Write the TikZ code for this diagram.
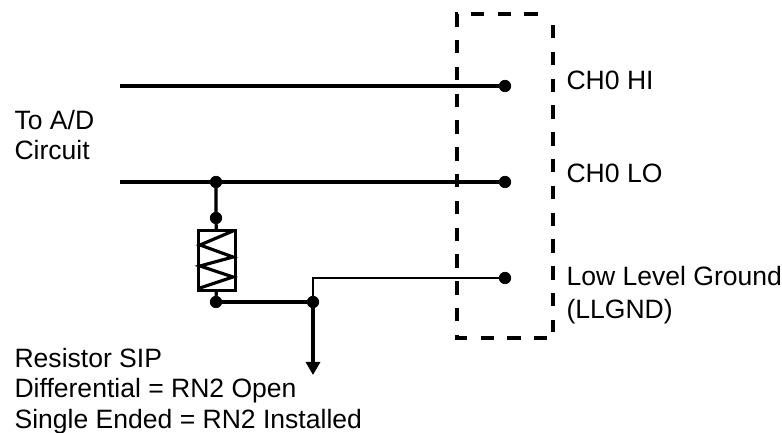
\documentclass[tikz,border=0pt]{standalone}
\usepackage{fontspec}
\setmainfont{Liberation Sans}
\usetikzlibrary{arrows.meta}

\begin{document}
\begin{tikzpicture}[line width = 0.9pt,
                        dot/.style = {circle, draw, fill = black, inner sep = 0pt, line width = 0.2pt, minimum size = 0.115cm},
                        thin wire/.style = {line width = 0.7pt},
                        box edge/.style = {line width = 1.2pt, dash pattern = on 0.135cm off 0.133cm},
                        resistor/.style = {draw, inner sep = 0pt, line width = 0.8pt, minimum width = 0.37cm, minimum height = 0.6cm},
                        label/.style = {anchor = west, inner sep = 0pt, font = \fontsize{7.55}{8.6}\selectfont, align = left}]
      \useasboundingbox (0, 0) rectangle (7.82, 4.33);
      % wires coming from the A/D circuit
      \coordinate (hi) at (1.2, 3.47);
      \coordinate (lo) at (1.2, 2.51);
      \coordinate (down) at (3.13, 0.58);
      \node [dot] (c1) at (5.05, 3.47){};
      \node [dot] (c2) at (5.05, 2.51){};
      \node [dot] (c3) at (5.05, 1.55){};
      \node [dot] (j1) at (2.16, 2.51){};
      \node [dot] (j2) at (2.16, 2.15){};
      \node [dot] (j3) at (2.16, 1.31){};
      \node [dot] (j4) at (3.13, 1.31){};
      \node [resistor] (rn) at (2.17, 1.725){};
      \draw (hi) -- (c1);
      \draw (lo) -- (j1) -- (c2);
      \draw (j1) -- (j2) -- (rn) -- (j3);
      \draw [line width = 1.15pt] (j3) -- (j4);
      \draw [thin wire] (j4) |- (c3);
      \draw [-{Triangle[length = 0.13cm, width = 0.14cm]}] (j4) -- (down);
      % zigzag inside the resistor
      \draw [line width = 0.9pt] (2.33, 2.02) -- (2.0, 1.88) -- (2.33, 1.76) -- (2.0, 1.67) -- (2.33, 1.56) -- (2.0, 1.45);
      % dashed box
      \draw [box edge] (4.57, 4.06) -- (4.57, 4.19) -- (5.5, 4.19);
      \draw [box edge] (4.57, 3.93) -- (4.57, 0.95) -- (5.47, 0.95);
      \draw [box edge] (5.53, 4.08) -- (5.53, 1.01);
      % labels
      \node [label] (ad) at (0.13, 2.98){To A/D\\Circuit};
      \node [label] (sip) at (0.13, 0.42){Resistor SIP\\Differential = RN2 Open\\Single Ended = RN2 Installed};
      \node [label] (chhi) at (5.65, 3.53){CH0 HI};
      \node [label] (chlo) at (5.65, 2.6){CH0 LO};
      \node [label] (llg) at (5.65, 1.57){Low Level Ground};
      \node [label] (llgnd) at (5.65, 1.21){(LLGND)};
    \end{tikzpicture}
\end{document}
